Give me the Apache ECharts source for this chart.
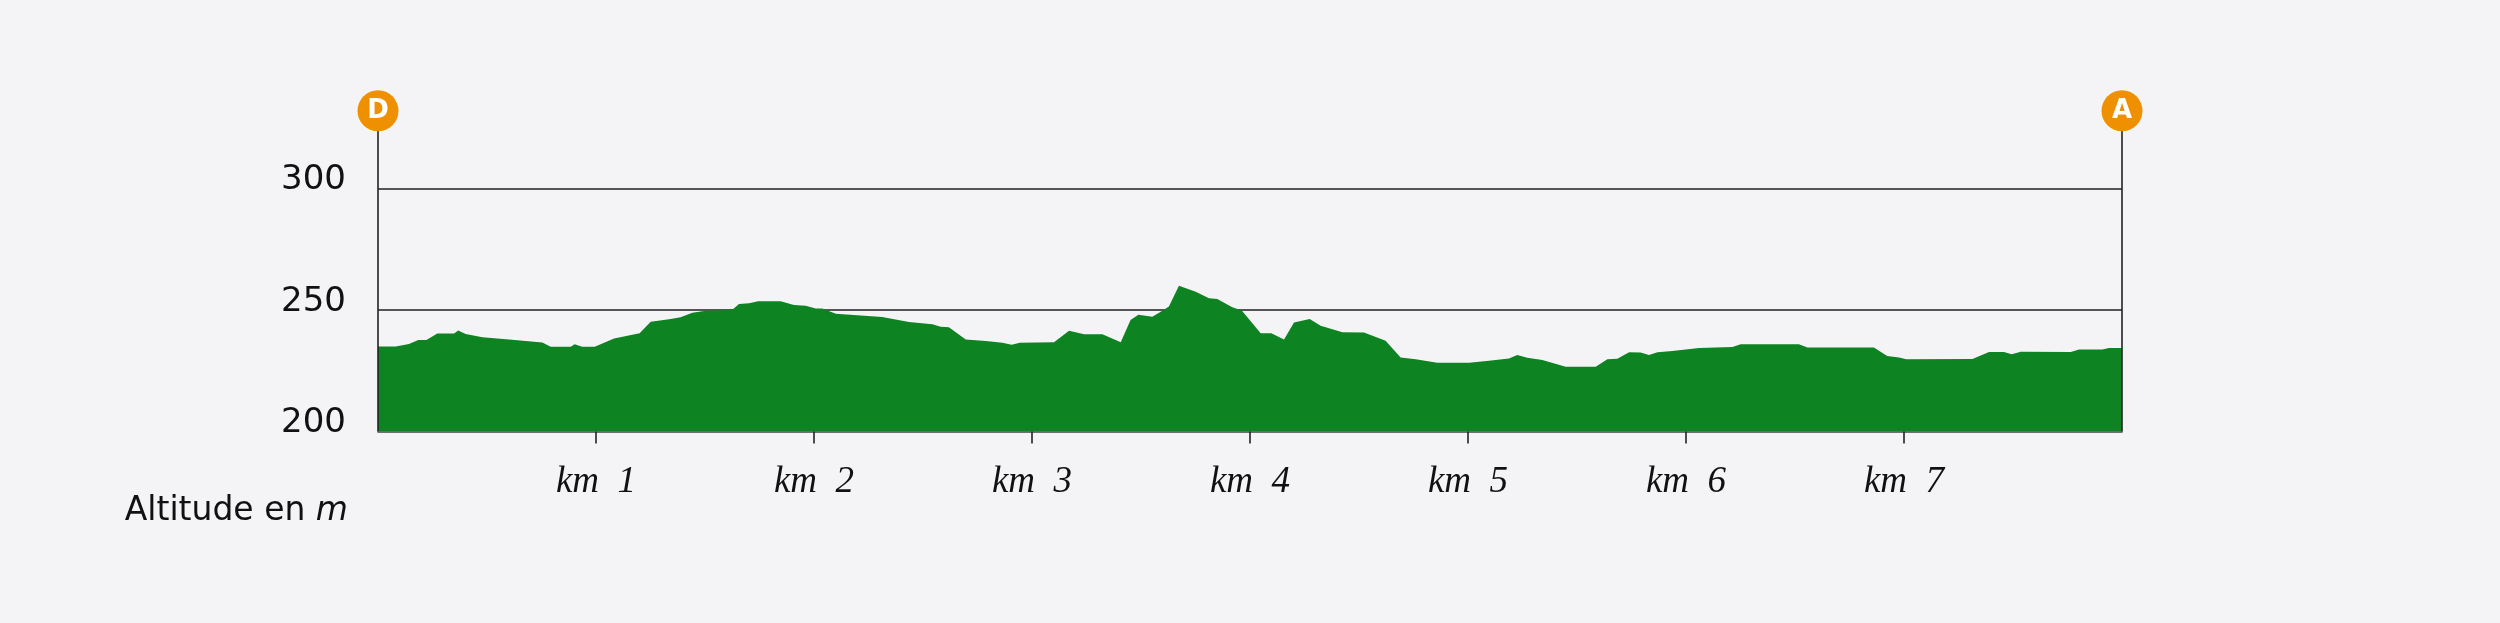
<!DOCTYPE html>
<html>
<head>
<meta charset="utf-8">
<script src="https://cdn.jsdelivr.net/npm/echarts@6/dist/echarts.min.js"></script>
<style>
  html, body { margin: 0; padding: 0; background: #f4f4f6; }
  #chart { width: 2500px; height: 623px; }
</style>
</head>
<body>
<div id="chart"></div>
<script>
// Distance along route (km)
const distanceKm = [
  0, 0.081, 0.142, 0.185, 0.222, 0.272, 0.349, 0.368, 0.402, 0.479,
  0.601, 0.754, 0.792, 0.884, 0.902, 0.937, 0.994, 1.083, 1.2, 1.251,
  1.335, 1.388, 1.442, 1.503, 1.628, 1.656, 1.702, 1.744, 1.847, 1.908,
  1.962, 2.008, 2.038, 2.1, 2.313, 2.436, 2.543, 2.581, 2.619, 2.696,
  2.788, 2.864, 2.907, 2.944, 3.101, 3.170, 3.239, 3.323, 3.407, 3.452,
  3.488, 3.552, 3.598, 3.628, 3.674, 3.751, 3.812, 3.85, 3.919, 3.962,
  3.988, 4.049, 4.098, 4.156, 4.202, 4.274, 4.324, 4.424, 4.523, 4.622,
  4.691, 4.760, 4.859, 5.005, 5.096, 5.188, 5.226, 5.272, 5.341, 5.448,
  5.586, 5.639, 5.685, 5.739, 5.792, 5.830, 5.869, 5.937, 6.060, 6.213,
  6.251, 6.518, 6.557, 6.862, 6.923, 6.977, 7.011, 7.314, 7.390, 7.459,
  7.494, 7.536, 7.765, 7.803, 7.910, 7.940, 8.0
];
// Altitude (m)
const altitudeM = [
  235, 235, 236, 237.7, 237.7, 240.3, 240.3, 241.6, 240.1, 238.8,
  237.9, 236.6, 234.9, 234.9, 235.9, 234.9, 234.9, 238.3, 240.4, 245.2,
  246.2, 247.0, 248.9, 249.7, 250.3, 252.5, 252.8, 253.6, 253.6, 252.1,
  251.8, 250.6, 250.6, 248.5, 247.1, 245.1, 244.1, 243.1, 242.9, 237.9,
  237.2, 236.5, 235.7, 236.5, 236.7, 241.5, 240.0, 240.0, 236.7, 245.9,
  248.1, 247.2, 249.7, 251.4, 260.0, 257.5, 254.8, 254.5, 251.1, 249.8,
  247.0, 240.4, 240.4, 237.9, 244.9, 246.3, 243.5, 240.8, 240.7, 237.4,
  230.5, 229.7, 228.3, 228.3, 229.1, 230.0, 231.5, 230.4, 229.4, 226.7,
  226.7, 229.7, 229.9, 232.6, 232.5, 231.5, 232.6, 233.1, 234.4, 234.8,
  235.9, 235.9, 234.6, 234.6, 231.1, 230.5, 229.7, 229.8, 232.7, 232.7,
  231.8, 232.8, 232.7, 233.7, 233.7, 234.4, 234.4
];
const kmTicks = [1, 2, 3, 4, 5, 6, 7];
const altTicks = [200, 250, 300];
const endpointNames = ['D', 'A'];
const endpointKm = [0, 8];
const altMin = 200;
const altMax = 332;

const profile = distanceKm.map((d, i) => [d, altitudeM[i]]);
const endpoints = endpointKm.map((d, i) => ({ name: endpointNames[i], value: [d, altMax] }));

const chart = echarts.init(document.getElementById('chart'), null, { renderer: 'canvas' });
chart.setOption({
  backgroundColor: '#f4f4f6',
  animation: false,
  grid: { left: 378, right: 378, top: 110.8, bottom: 191.5, containLabel: false },
  xAxis: {
    type: 'value', min: 0, max: 8, interval: 1,
    axisLine: { show: true, lineStyle: { color: '#444', width: 1.5 } },
    axisTick: { show: true, customValues: kmTicks, length: 12, lineStyle: { color: '#222', width: 1.6 } },
    axisLabel: {
      customValues: kmTicks,
      formatter: v => 'km  ' + v,
      fontFamily: 'Liberation Serif', fontStyle: 'italic', fontSize: 37,
      color: '#111', margin: 31, lineHeight: 40
    },
    splitLine: { show: false }
  },
  yAxis: {
    type: 'value', min: altMin, max: altMax, interval: 50,
    axisLine: { show: false },
    axisTick: { show: false },
    axisLabel: {
      customValues: altTicks,
      fontFamily: 'DejaVu Sans', fontSize: 34, color: '#111', margin: 32,
      verticalAlign: 'bottom', lineHeight: 16
    },
    splitLine: { show: true, showMinLine: false, showMaxLine: false, lineStyle: { color: '#222', width: 1.6 } }
  },
  graphic: [{
    type: 'text', x: 348, y: 511.5, silent: true,
    style: {
      text: '{a|Altitude en }{b|m}',
      align: 'right', verticalAlign: 'middle',
      rich: {
        a: { fontFamily: 'DejaVu Sans', fontSize: 33, fill: '#111', color: '#111' },
        b: { fontFamily: 'DejaVu Sans', fontSize: 33, fontStyle: 'italic', fill: '#111', color: '#111' }
      }
    }
  }],
  series: [
    {
      type: 'line', data: profile, showSymbol: false, symbol: 'none', z: 2,
      lineStyle: { width: 0 },
      areaStyle: { color: '#0e8321', opacity: 1, origin: 'start' },
      silent: true
    },
    {
      type: 'scatter', data: endpoints, symbol: 'circle', symbolSize: 41, clip: false, z: 5,
      itemStyle: { color: '#ef9000', opacity: 1 },
      label: {
        show: true, position: 'inside', formatter: p => p.name,
        color: '#ffffff', fontFamily: 'DejaVu Sans', fontWeight: 'bold', fontSize: 26
      },
      markLine: {
        silent: true, symbol: ['none', 'none'], z: 3,
        label: { show: false },
        lineStyle: { color: '#222', width: 1.6, type: 'solid' },
        data: endpointKm.map(d => ({ xAxis: d }))
      }
    }
  ]
});
</script>
</body>
</html>
